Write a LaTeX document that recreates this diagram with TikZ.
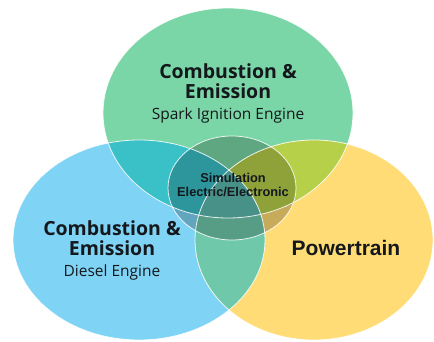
\documentclass[tikz,border=0pt]{standalone}
\usepackage{fontspec}
\setmainfont{Open Sans}
\newfontfamily\arialfont{Liberation Sans}
\usetikzlibrary{positioning}
\definecolor{leaf}{RGB}{122,214,166}
\definecolor{sky}{RGB}{127,211,245}
\definecolor{sand}{RGB}{255,220,117}
\definecolor{teal}{RGB}{58,193,200}
\definecolor{lime}{RGB}{182,208,74}
\definecolor{mint}{RGB}{112,200,170}
\definecolor{core}{RGB}{92,186,176}
\definecolor{ink}{RGB}{20,24,28}

\begin{document}
\begin{tikzpicture}[x=1pt,y=1pt,rim/.style={draw=white,line width=.8pt,draw opacity=.85},title/.style={font=\fontsize{19.5}{20}\selectfont\bfseries,text=ink,align=center,inner sep=0pt},sub/.style={font=\fontsize{15.5}{17}\selectfont,text=ink,inner sep=0pt},strong/.style={font=\arialfont\bfseries,text=ink,align=center,inner sep=0pt}]
\useasboundingbox (0,0) rectangle (434,342);
% base ellipses
\fill[leaf] (228,229) ellipse [x radius=125,y radius=105];
\fill[sky] (139,102) ellipse [x radius=126,y radius=100];
\fill[sand] (314,102) ellipse [x radius=119,y radius=100];
% overlaps
\begin{scope}\clip (228,229) ellipse [x radius=125,y radius=105]; \fill[teal] (139,102) ellipse [x radius=126,y radius=100]; \fill[lime] (314,102) ellipse [x radius=119,y radius=100];\end{scope}
\begin{scope}\clip (139,102) ellipse [x radius=126,y radius=100]; \fill[mint] (314,102) ellipse [x radius=119,y radius=100];\end{scope}
\begin{scope}\clip (228,229) ellipse [x radius=125,y radius=105]; \clip (139,102) ellipse [x radius=126,y radius=100]; \fill[core] (314,102) ellipse [x radius=119,y radius=100];\end{scope}
% centre
\fill[black,fill opacity=.22] (232,154) ellipse [x radius=64,y radius=52];
\draw[rim] (228,229) ellipse [x radius=125,y radius=105]; \draw[rim] (139,102) ellipse [x radius=126,y radius=100]; \draw[rim] (314,102) ellipse [x radius=119,y radius=100]; \draw[rim] (232,154) ellipse [x radius=64,y radius=52];
% labels
\node[title] (spark) at (228,261) {Combustion \&\\Emission};
\node[sub,below=9pt of spark] (sparksub) {Spark Ignition Engine};
\node[title] (diesel) at (112,104) {Combustion \&\\Emission};
\node[sub,below=9pt of diesel] (dieselsub) {Diesel Engine};
\node[strong,font=\arialfont\bfseries\fontsize{21}{23}\selectfont] (power) at (346,94) {Powertrain};
\node[strong,font=\arialfont\bfseries\fontsize{12.8}{14.5}\selectfont] (sim) at (233,157) {Simulation\\Electric/Electronic};
\end{tikzpicture}
\end{document}
